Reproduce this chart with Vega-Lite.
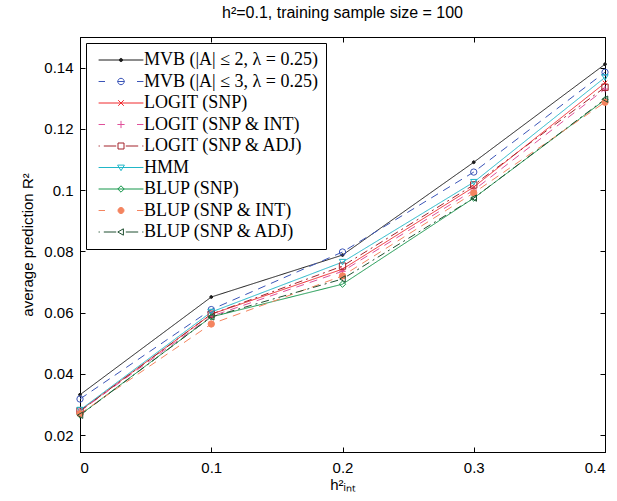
{
  "$schema": "https://vega.github.io/schema/vega-lite/v6.json",
  "autosize": {"type": "none"},
  "padding": {"left": 80, "top": 37, "right": 12, "bottom": 49},
  "width": 525,
  "height": 415,
  "title": {"text": "h²=0.1, training sample size = 100", "font": "Liberation Sans", "fontSize": 16, "fontWeight": "normal", "color": "#000000", "offset": 16},
  "config": {
    "view": {"stroke": "#000000", "strokeWidth": 1},
    "axis": {"grid": false, "domainColor": "#000000", "tickColor": "#000000", "labelColor": "#000000", "titleColor": "#000000", "labelFont": "Liberation Sans", "titleFont": "Liberation Sans", "labelFontSize": 15, "titleFontSize": 15, "titleFontWeight": "normal", "tickSize": -5, "domainWidth": 1, "tickWidth": 1}
  },
  "data": {"values": [
    {"x": 0, "s": "MVB (|A| ≤ 2, λ = 0.25)", "v": 0.0332},
    {"x": 0.1, "s": "MVB (|A| ≤ 2, λ = 0.25)", "v": 0.0651},
    {"x": 0.2, "s": "MVB (|A| ≤ 2, λ = 0.25)", "v": 0.0788},
    {"x": 0.3, "s": "MVB (|A| ≤ 2, λ = 0.25)", "v": 0.1091},
    {"x": 0.4, "s": "MVB (|A| ≤ 2, λ = 0.25)", "v": 0.1411},
    {"x": 0, "s": "MVB (|A| ≤ 3, λ = 0.25)", "v": 0.0318},
    {"x": 0.1, "s": "MVB (|A| ≤ 3, λ = 0.25)", "v": 0.0610},
    {"x": 0.2, "s": "MVB (|A| ≤ 3, λ = 0.25)", "v": 0.0798},
    {"x": 0.3, "s": "MVB (|A| ≤ 3, λ = 0.25)", "v": 0.1059},
    {"x": 0.4, "s": "MVB (|A| ≤ 3, λ = 0.25)", "v": 0.1385},
    {"x": 0, "s": "LOGIT (SNP)", "v": 0.0280},
    {"x": 0.1, "s": "LOGIT (SNP)", "v": 0.0595},
    {"x": 0.2, "s": "LOGIT (SNP)", "v": 0.0742},
    {"x": 0.3, "s": "LOGIT (SNP)", "v": 0.1010},
    {"x": 0.4, "s": "LOGIT (SNP)", "v": 0.1350},
    {"x": 0, "s": "LOGIT (SNP & INT)", "v": 0.0278},
    {"x": 0.1, "s": "LOGIT (SNP & INT)", "v": 0.0588},
    {"x": 0.2, "s": "LOGIT (SNP & INT)", "v": 0.0735},
    {"x": 0.3, "s": "LOGIT (SNP & INT)", "v": 0.1000},
    {"x": 0.4, "s": "LOGIT (SNP & INT)", "v": 0.1330},
    {"x": 0, "s": "LOGIT (SNP & ADJ)", "v": 0.0279},
    {"x": 0.1, "s": "LOGIT (SNP & ADJ)", "v": 0.0595},
    {"x": 0.2, "s": "LOGIT (SNP & ADJ)", "v": 0.0752},
    {"x": 0.3, "s": "LOGIT (SNP & ADJ)", "v": 0.1017},
    {"x": 0.4, "s": "LOGIT (SNP & ADJ)", "v": 0.1336},
    {"x": 0, "s": "HMM", "v": 0.0282},
    {"x": 0.1, "s": "HMM", "v": 0.0602},
    {"x": 0.2, "s": "HMM", "v": 0.0765},
    {"x": 0.3, "s": "HMM", "v": 0.1026},
    {"x": 0.4, "s": "HMM", "v": 0.1368},
    {"x": 0, "s": "BLUP (SNP)", "v": 0.0266},
    {"x": 0.1, "s": "BLUP (SNP)", "v": 0.0586},
    {"x": 0.2, "s": "BLUP (SNP)", "v": 0.0693},
    {"x": 0.3, "s": "BLUP (SNP)", "v": 0.0974},
    {"x": 0.4, "s": "BLUP (SNP)", "v": 0.1295},
    {"x": 0, "s": "BLUP (SNP & INT)", "v": 0.0270},
    {"x": 0.1, "s": "BLUP (SNP & INT)", "v": 0.0563},
    {"x": 0.2, "s": "BLUP (SNP & INT)", "v": 0.0720},
    {"x": 0.3, "s": "BLUP (SNP & INT)", "v": 0.0991},
    {"x": 0.4, "s": "BLUP (SNP & INT)", "v": 0.1287},
    {"x": 0, "s": "BLUP (SNP & ADJ)", "v": 0.0265},
    {"x": 0.1, "s": "BLUP (SNP & ADJ)", "v": 0.0586},
    {"x": 0.2, "s": "BLUP (SNP & ADJ)", "v": 0.0710},
    {"x": 0.3, "s": "BLUP (SNP & ADJ)", "v": 0.0974},
    {"x": 0.4, "s": "BLUP (SNP & ADJ)", "v": 0.1297}
  ]},
  "resolve": {"axis": {"x": "independent", "y": "independent"}},
  "layer": [
    {
      "mark": {"type": "line", "strokeWidth": 1},
      "encoding": {
        "x": {"field": "x", "type": "quantitative", "scale": {"domain": [0, 0.4], "nice": false, "zero": false},
              "axis": {"values": [0, 0.1, 0.2, 0.3, 0.4], "format": "~g", "title": "h²ᵢₙₜ", "labelPadding": 13, "titlePadding": 2}},
        "y": {"field": "v", "type": "quantitative", "scale": {"domain": [0.0145, 0.15], "nice": false, "zero": false},
              "axis": {"values": [0.02, 0.04, 0.06, 0.08, 0.1, 0.12, 0.14], "format": "~g", "title": "average prediction R²", "labelPadding": 12, "titlePadding": 8}},
        "color": {"field": "s", "type": "nominal",
          "scale": {"domain": ["MVB (|A| ≤ 2, λ = 0.25)", "MVB (|A| ≤ 3, λ = 0.25)", "LOGIT (SNP)", "LOGIT (SNP & INT)", "LOGIT (SNP & ADJ)", "HMM", "BLUP (SNP)", "BLUP (SNP & INT)", "BLUP (SNP & ADJ)"],
                    "range": ["#1a1a1a", "#3b55b8", "#f0282d", "#e0509a", "#a3222a", "#21b7c8", "#14964a", "#f4845f", "#1f4f30"]},
          "legend": {
            "title": null, "orient": "top-left", "offset": 6, "padding": 8,
            "strokeColor": "#000000", "fillColor": "#ffffff",
            "labelFont": "Liberation Serif", "labelFontSize": 18, "labelColor": "#000000", "labelLimit": 400,
            "symbolSize": 64, "symbolStrokeWidth": 1, "symbolOpacity": 1, "rowPadding": 3.5, "labelOffset": 32,
            "encode": {"symbols": {"update": {
              "shape": {"signal": "['M-1.1,0H10.1M4.9,0A0.4,0.4,0,1,1,4.1,0A0.4,0.4,0,1,1,4.9,0Z','M-1.1,0H0.5M3.6,0H5.4M8.5,0H10.1M5.3,0A0.8,0.8,0,1,1,3.7,0A0.8,0.8,0,1,1,5.3,0Z','M-1.1,0H10.1M3.8,-0.7L5.2,0.7M3.8,0.7L5.2,-0.7','M-1.1,0H0.5M3.6,0H5.4M8.5,0H10.1M4.5,-0.9V0.9','M-1.1,0H-0.8M0.2,0H3.3M5.7,0H8.8M9.8,0H10.1M3.75,-0.75H5.25V0.75H3.75Z','M-1.1,0H10.1M3.65,-0.6H5.35L4.5,0.8Z','M-1.1,0H10.1M4.5,-0.8L5.3,0L4.5,0.8L3.7,0Z','M-1.1,0H0.5M8.5,0H10.1M5.25,0A0.75,0.75,0,1,1,3.75,0A0.75,0.75,0,1,1,5.25,0Z','M-1.1,0H-0.8M0.2,0H3.3M5.7,0H8.8M9.8,0H10.1M3.7,0L5.1,-0.8V0.8Z'][indexof(['MVB (|A| ≤ 2, λ = 0.25)', 'MVB (|A| ≤ 3, λ = 0.25)', 'LOGIT (SNP)', 'LOGIT (SNP & INT)', 'LOGIT (SNP & ADJ)', 'HMM', 'BLUP (SNP)', 'BLUP (SNP & INT)', 'BLUP (SNP & ADJ)'], datum.value)] + 'M52.7,0'"},
              "fill": {"signal": "datum.value === 'MVB (|A| ≤ 2, λ = 0.25)' ? '#1a1a1a' : (datum.value === 'BLUP (SNP & INT)' ? '#f4845f' : 'transparent')"},
              "strokeDash": {"value": []},
              "opacity": {"value": 1}
            }}}
          }
        },
        "strokeDash": {"field": "s", "type": "nominal",
          "sort": ["MVB (|A| ≤ 2, λ = 0.25)", "MVB (|A| ≤ 3, λ = 0.25)", "LOGIT (SNP)", "LOGIT (SNP & INT)", "LOGIT (SNP & ADJ)", "HMM", "BLUP (SNP)", "BLUP (SNP & INT)", "BLUP (SNP & ADJ)"],
          "scale": {"range": [[1, 0], [8, 6], [1, 0], [8, 6], [8, 4, 2, 4], [1, 0], [1, 0], [8, 6], [8, 4, 2, 4]]},
          "legend": null
        }
      }
    },
    {
      "transform": [{"calculate": "datum.s", "as": "m"}],
      "mark": {"type": "point", "size": 40, "strokeWidth": 1, "opacity": 1},
      "encoding": {
        "x": {"field": "x", "type": "quantitative", "axis": {"orient": "top", "values": [0, 0.1, 0.2, 0.3, 0.4], "labels": false, "title": null}},
        "y": {"field": "v", "type": "quantitative", "axis": {"orient": "right", "values": [0.02, 0.04, 0.06, 0.08, 0.1, 0.12, 0.14], "labels": false, "title": null}},
        "shape": {"field": "m", "type": "nominal",
          "sort": ["MVB (|A| ≤ 2, λ = 0.25)", "MVB (|A| ≤ 3, λ = 0.25)", "LOGIT (SNP)", "LOGIT (SNP & INT)", "LOGIT (SNP & ADJ)", "HMM", "BLUP (SNP)", "BLUP (SNP & INT)", "BLUP (SNP & ADJ)"],
          "scale": {"range": ["M0.45,0A0.45,0.45,0,1,1,-0.45,0A0.45,0.45,0,1,1,0.45,0Z", "circle", "M-0.7,-0.7L0.7,0.7M-0.7,0.7L0.7,-0.7", "M-1,0H1M0,-1V1", "square", "triangle-down", "diamond", "circle", "triangle-left"]},
          "legend": null},
        "stroke": {"field": "m", "type": "nominal",
          "sort": ["MVB (|A| ≤ 2, λ = 0.25)", "MVB (|A| ≤ 3, λ = 0.25)", "LOGIT (SNP)", "LOGIT (SNP & INT)", "LOGIT (SNP & ADJ)", "HMM", "BLUP (SNP)", "BLUP (SNP & INT)", "BLUP (SNP & ADJ)"],
          "scale": {"range": ["#1a1a1a", "#3b55b8", "#f0282d", "#e0509a", "#a3222a", "#21b7c8", "#14964a", "#f4845f", "#1f4f30"]},
          "legend": null},
        "fill": {"field": "m", "type": "nominal",
          "sort": ["MVB (|A| ≤ 2, λ = 0.25)", "MVB (|A| ≤ 3, λ = 0.25)", "LOGIT (SNP)", "LOGIT (SNP & INT)", "LOGIT (SNP & ADJ)", "HMM", "BLUP (SNP)", "BLUP (SNP & INT)", "BLUP (SNP & ADJ)"],
          "scale": {"range": ["#1a1a1a", "transparent", "transparent", "transparent", "transparent", "transparent", "transparent", "#f4845f", "transparent"]},
          "legend": null}
      }
    }
  ]
}
